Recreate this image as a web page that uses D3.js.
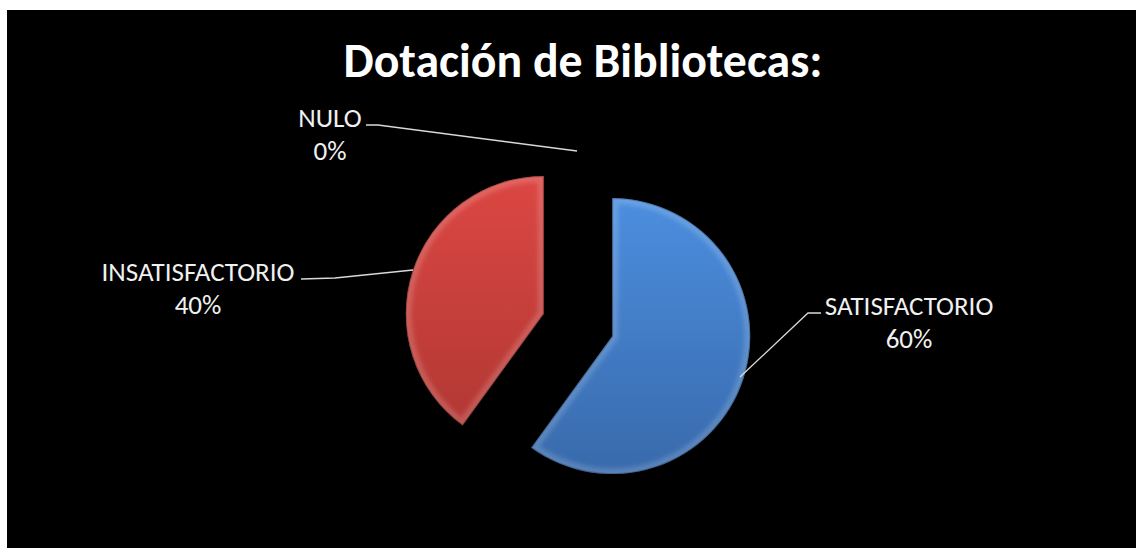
<!DOCTYPE html>
<html><head><meta charset="utf-8">
<script src="https://cdn.jsdelivr.net/npm/d3@7"></script>
<style>
html,body{margin:0;padding:0;background:#fff;}
svg{display:block;}
text{font-family:Calibri,Carlito,Lato,"Open Sans","Liberation Sans",sans-serif;}
</style></head>
<body><svg id="c" width="1136" height="548"></svg>
<script>
const title = "Dotación de Bibliotecas:";
const categories = ["SATISFACTORIO", "NULO", "INSATISFACTORIO"];
const values = [60, 0, 40];
const percentLabels = ["60%", "0%", "40%"];
const colorsTop = ["#4c8edf", "#888888", "#dc4743"];
const colorsBottom = ["#386aab", "#666666", "#b23834"];

const svg = d3.select("#c");
svg.append("rect").attr("x", 7).attr("y", 10).attr("width", 1129).attr("height", 538).attr("fill", "#000");

const defs = svg.append("defs");
categories.forEach((c, i) => {
  const g = defs.append("linearGradient").attr("id", "g" + i)
    .attr("x1", 0).attr("y1", 0).attr("x2", 0).attr("y2", 1);
  g.append("stop").attr("offset", "0%").attr("stop-color", colorsTop[i]);
  g.append("stop").attr("offset", "100%").attr("stop-color", colorsBottom[i]);
});
const blur = defs.append("filter").attr("id", "soft").attr("x", "-10%").attr("y", "-10%").attr("width", "120%").attr("height", "120%");
blur.append("feGaussianBlur").attr("stdDeviation", 2);

// title
const t = svg.append("text").attr("x", 583).attr("y", 77).attr("text-anchor", "middle")
  .attr("fill", "#fff").attr("font-weight", "bold").attr("font-size", 36).text(title);
const tw = t.node().getComputedTextLength();
t.attr("font-size", 36 * 479 / tw);

const cx = 578, cy = 325, r = 138, explode = 36;
const pie = d3.pie().sort(null).value(d => d)(values);
const arc = d3.arc().innerRadius(0).outerRadius(r);

const slices = svg.append("g").attr("transform", `translate(${cx},${cy})`);
pie.forEach((p, i) => {
  if (p.endAngle - p.startAngle <= 0) return;
  const mid = (p.startAngle + p.endAngle) / 2;
  const dx = Math.sin(mid) * explode, dy = -Math.cos(mid) * explode;
  const g = slices.append("g").attr("transform", `translate(${dx},${dy})`);
  const d = arc(p);
  defs.append("clipPath").attr("id", "cp" + i).append("path").attr("d", d);
  g.append("path").attr("d", d).attr("fill", `url(#g${i})`);
  // bevel highlight on rim
  const cg = g.append("g").attr("clip-path", `url(#cp${i})`);
  cg.append("path").attr("d", d).attr("fill", "none").attr("stroke", "#fff")
    .attr("stroke-opacity", 0.16).attr("stroke-width", 12).attr("filter", "url(#soft)");
  cg.append("path").attr("d", d).attr("fill", "none").attr("stroke", "#000")
    .attr("stroke-opacity", 0.25).attr("stroke-width", 2);
});

// labels with leader lines
const labelSpec = [
  {tx: 909, ty: 306, line: [[740, 377], [808, 313], [821, 313]]},
  {tx: 330, ty: 118, line: [[577, 151], [378, 125], [366, 125]]},
  {tx: 198, ty: 272, line: [[413, 270], [335, 278], [301, 279]]}
];
const lab = svg.append("g");
// size labels so the longest matches the reference width
const probe = lab.append("text").attr("font-size", 20).text(categories[2]);
const fs = 20 * 193 / probe.node().getComputedTextLength();
probe.remove();
categories.forEach((c, i) => {
  const s = labelSpec[i];
  lab.append("path").attr("d", d3.line()(s.line)).attr("fill", "none")
    .attr("stroke", "#d9d9d9").attr("stroke-width", 1.3);
  const tt = lab.append("text").attr("text-anchor", "middle")
    .attr("fill", "#f0f0f0").attr("font-size", fs);
  tt.append("tspan").attr("x", s.tx).attr("y", s.ty).attr("dy", "0.35em").text(c);
  tt.append("tspan").attr("x", s.tx).attr("y", s.ty + 33).attr("dy", "0.35em").text(percentLabels[i]);
});
</script></body></html>
